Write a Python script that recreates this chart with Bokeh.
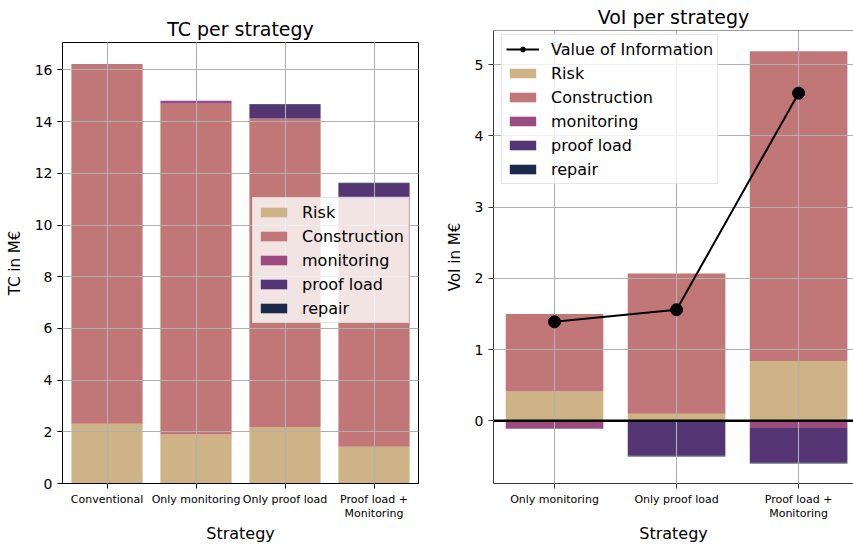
from bokeh.plotting import figure
from bokeh.models import Range1d, FixedTicker, Legend, LegendItem, Span, ColumnDataSource
from bokeh.layouts import row
from bokeh.embed import file_html
from bokeh.resources import INLINE

# ---------------- data ----------------
tc_strategies = ["Conventional", "Only monitoring", "Only proof load", "Proof load +\nMonitoring"]
tc_risk = [2.31, 1.90, 2.19, 1.42]
tc_construction = [13.92, 12.79, 11.93, 9.58]
tc_monitoring = [0.0, 0.12, 0.0, 0.09]
tc_proof_load = [0.0, 0.0, 0.52, 0.51]
tc_repair = [0.0, 0.0, 0.03, 0.03]
tc_yticks = [0, 2, 4, 6, 8, 10, 12, 14, 16]

voi_strategies = ["Only monitoring", "Only proof load", "Proof load +\nMonitoring"]
voi_risk = [0.41, 0.10, 0.84]
voi_construction = [1.09, 1.97, 4.35]
voi_monitoring = [-0.11, 0.0, -0.10]
voi_proof_load = [0.0, -0.49, -0.49]
voi_repair = [0.0, -0.01, -0.01]
voi_value = [1.39, 1.56, 4.60]
voi_yticks = [0, 1, 2, 3, 4, 5]

components = ["Risk", "Construction", "monitoring", "proof load", "repair"]
colors = ["#cdb385", "#c17778", "#9c4b80", "#533673", "#1c2a4a"]

FONT = "DejaVu Sans"
GRID = "#b0b0b0"


def style(p, spine, title_standoff):
    p.title.text_font = FONT
    p.title.text_font_size = "19px"
    p.title.text_font_style = "normal"
    p.title.text_color = "black"
    p.title.align = "center"
    p.title.standoff = title_standoff
    p.title.text_line_height = 1.0
    for ax in list(p.xaxis) + list(p.yaxis):
        ax.axis_line_color = spine
        ax.major_tick_line_color = spine
        ax.major_tick_out = 5
        ax.major_tick_in = 0
        ax.minor_tick_line_color = None
        ax.axis_label_text_font = FONT
        ax.axis_label_text_font_style = "normal"
        ax.major_label_text_font = FONT
        ax.major_label_text_color = "black"
        ax.axis_label_text_color = "black"
    p.yaxis.major_label_text_font_size = "14px"
    p.xaxis.major_label_text_font_size = "11px"
    p.xaxis.major_label_text_line_height = 1.1
    p.yaxis.axis_label_text_font_size = "15px"
    p.yaxis.axis_label_standoff = 8
    p.xaxis.major_label_standoff = 4
    p.xaxis.axis_label_text_font_size = "16px"
    p.xaxis.axis_label_text_line_height = 1.0
    p.xaxis.axis_label_standoff = 1
    p.xaxis.axis_label = "Strategy"
    for g in list(p.xgrid) + list(p.ygrid):
        g.grid_line_color = GRID
        g.grid_line_width = 1.1
        g.level = "guide"


def style_legend(lg):
    lg.label_text_font = FONT
    lg.label_text_font_size = "16px"
    lg.label_text_color = "black"
    lg.glyph_width = 33
    lg.glyph_height = 12
    lg.label_height = 20
    lg.spacing = 4
    lg.padding = 4
    lg.margin = 0
    lg.label_standoff = 12
    lg.border_line_color = "#cccccc"
    lg.border_line_width = 1
    lg.background_fill_color = "white"
    lg.background_fill_alpha = 0.8


# ---------------- left: TC per strategy ----------------
tc_x = list(range(len(tc_strategies)))
src1 = ColumnDataSource(dict(x=tc_x, Risk=tc_risk, Construction=tc_construction,
                             monitoring=tc_monitoring, **{"proof load": tc_proof_load}, repair=tc_repair))

p1 = figure(width=430, height=545, output_backend="svg", toolbar_location=None,
            title="TC per strategy", x_range=Range1d(-0.5, len(tc_strategies) - 0.5),
            y_range=Range1d(0, 17.06), min_border_left=62, min_border_right=12,
            min_border_top=42, min_border_bottom=52, frame_align=False)
r1 = p1.vbar_stack(components, x="x", width=0.8, source=src1, color=colors, line_color=None)
p1.xaxis.ticker = FixedTicker(ticks=tc_x)
p1.xaxis.major_label_overrides = {i: s for i, s in enumerate(tc_strategies)}
p1.yaxis.ticker = FixedTicker(ticks=tc_yticks)
p1.yaxis.axis_label = "TC in M€"
p1.outline_line_color = "black"
p1.outline_line_alpha = 1
p1.outline_line_width = 1
style(p1, "black", 5)
lg1 = Legend(items=[LegendItem(label=c, renderers=[r]) for c, r in zip(components, r1)],
             location=(190, 160))
style_legend(lg1)
p1.add_layout(lg1, "center")

# ---------------- right: VoI per strategy ----------------
voi_x = list(range(len(voi_strategies)))
src_pos = ColumnDataSource(dict(x=voi_x, Risk=voi_risk, Construction=voi_construction))
src_neg = ColumnDataSource(dict(x=voi_x, monitoring=voi_monitoring,
                                **{"proof load": voi_proof_load}, repair=voi_repair))

y2_start, y2_end = -0.88, 5.48
p2 = figure(width=423, height=545, output_backend="svg", toolbar_location=None,
            title="VoI per strategy", x_range=Range1d(-0.5, 2.45),
            y_range=Range1d(y2_start, y2_end), min_border_left=63, min_border_right=0,
            min_border_top=30, min_border_bottom=52, frame_align=False)
rp = p2.vbar_stack(components[:2], x="x", width=0.8, source=src_pos, color=colors[:2], line_color=None)
rn = p2.vbar_stack(components[2:], x="x", width=0.8, source=src_neg, color=colors[2:], line_color=None)
p2.add_layout(Span(location=0, dimension="width", line_color="black", line_width=2.5))
spine2 = "#3a3a3a"
p2.add_layout(Span(location=y2_end, dimension="width", line_color=spine2, line_width=1.2))
rl = p2.line(voi_x, voi_value, line_color="black", line_width=2, level="overlay")
rs = p2.scatter(voi_x, voi_value, size=12, color="black", level="overlay")
p2.xaxis.ticker = FixedTicker(ticks=voi_x)
p2.xaxis.major_label_overrides = {i: s for i, s in enumerate(voi_strategies)}
p2.yaxis.ticker = FixedTicker(ticks=voi_yticks)
p2.yaxis.axis_label = "VoI in M€"
p2.outline_line_color = None
style(p2, spine2, 6)
p2.title.offset = 3
items2 = [LegendItem(label="Value of Information", renderers=[rl, rs])]
items2 += [LegendItem(label=c, renderers=[r]) for c, r in zip(components, list(rp) + list(rn))]
lg2 = Legend(items=items2, location=(8, 299))
style_legend(lg2)
p2.add_layout(lg2, "center")

layout = row(p1, p2)
open("out.html", "w").write(file_html(layout, INLINE))
